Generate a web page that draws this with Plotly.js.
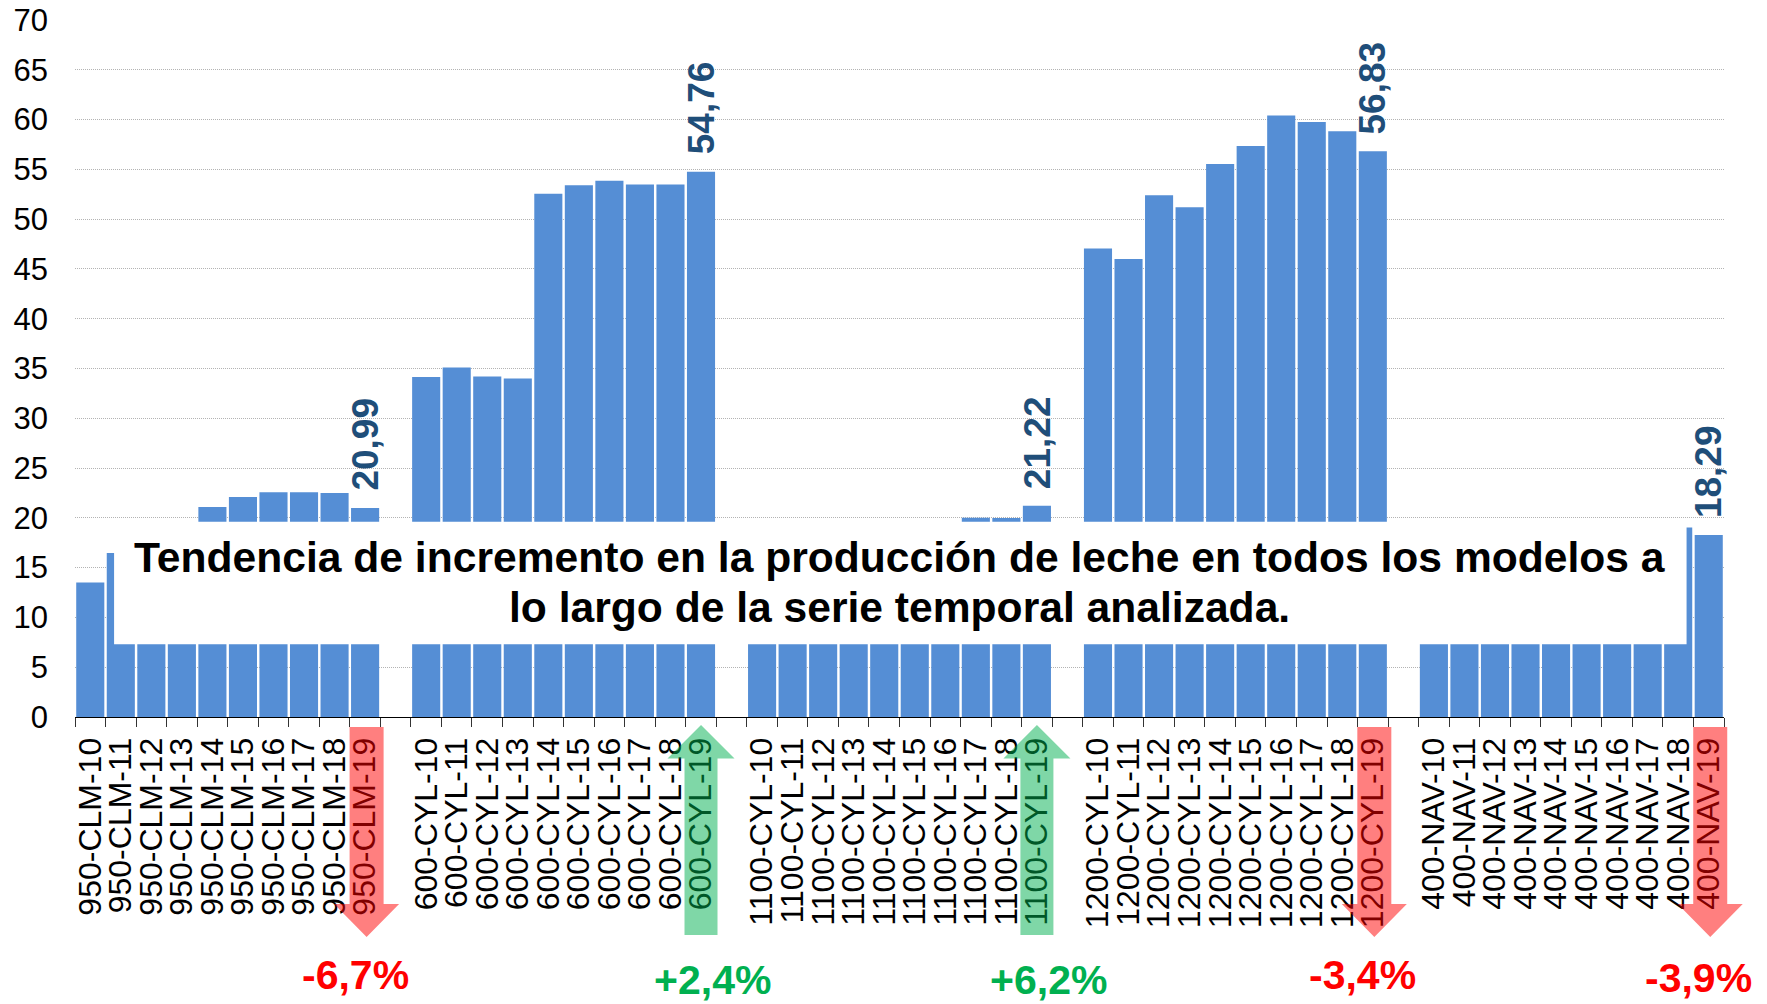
<!DOCTYPE html>
<html>
<head>
<meta charset="utf-8">
<script src="https://cdn.plot.ly/plotly-3.0.1.min.js"></script>
<style>
html,body{margin:0;padding:0;background:#ffffff;}
#chart{width:1767px;height:1004px;}
</style>
</head>
<body>
<div id="chart"></div>
<script>
// ---------- DATA ----------
const modelos = ['950-CLM', '600-CYL', '1100-CYL', '1200-CYL', '400-NAV'];
const anios = ['10', '11', '12', '13', '14', '15', '16', '17', '18', '19'];

const prod950CLM  = [13.50, 16.48, 18.30, 19.30, 21.10, 22.10, 22.57, 22.57, 22.50, 20.99];
const prod600CYL  = [34.15, 35.10, 34.20, 34.00, 52.55, 53.40, 53.85, 53.48, 53.48, 54.76];
const prod1100CYL = [17.20, 17.60, 18.10, 18.40, 18.80, 19.10, 19.40, 20.00, 19.98, 21.22];
const prod1200CYL = [47.05, 46.00, 52.40, 51.20, 55.55, 57.35, 60.40, 59.75, 58.83, 56.83];
const prod400NAV  = [15.80, 16.20, 16.70, 17.10, 17.60, 18.00, 18.50, 18.80, 19.03, 18.29];

const variacion = ['-6,7%', '+2,4%', '+6,2%', '-3,4%', '-3,9%'];
const nota = [
  'Tendencia de incremento en la producción de leche en todos los modelos a',
  'lo largo de la serie temporal analizada.'
];

// ---------- BUILD ----------
const series = [prod950CLM, prod600CYL, prod1100CYL, prod1200CYL, prod400NAV];
const perGroup = anios.length + 1;              // one empty slot between groups
const nSlots = modelos.length * perGroup - 1;   // 54

const xs = [], ys = [], tickvals = [], ticktext = [];
modelos.forEach((m, g) => {
  anios.forEach((a, j) => {
    const p = g * perGroup + j;
    xs.push(p);
    ys.push(series[g][j]);
    tickvals.push(p);
    ticktext.push(m + '-' + a);
  });
});

const FONT = 'Arial, "Liberation Sans", sans-serif';
const BAR = '#558ED5';
const LABEL_BLUE = '#1F4E79';
const RED = '#FF0000';
const GREEN = '#00B050';

const annotations = [];
const shapes = [];

// value labels on last bar of each group
modelos.forEach((m, g) => {
  const j = anios.length - 1;
  const p = g * perGroup + j;
  const v = series[g][j];
  annotations.push({
    x: p, y: v, xref: 'x', yref: 'y',
    text: v.toFixed(2).replace('.', ','),
    showarrow: false, textangle: -90,
    xanchor: 'center', yanchor: 'bottom', yshift: 15,
    font: {family: FONT, size: 37, color: LABEL_BLUE, weight: 'bold'}
  });
});

// white note box
shapes.push({
  type: 'rect', layer: 'above',
  xref: 'paper', yref: 'y',
  x0: 0.0237, x1: 0.9773, y0: 7.3, y1: 19.6,
  fillcolor: '#ffffff', line: {width: 0}
});
annotations.push({
  x: 0.5003, y: 0, xref: 'paper', yref: 'paper', yshift: 160.5,
  text: nota[0], showarrow: false, xanchor: 'center', yanchor: 'middle',
  font: {family: FONT, size: 42.6, color: '#000000', weight: 'bold'}
});
annotations.push({
  x: 0.5003, y: 0, xref: 'paper', yref: 'paper', yshift: 109.8,
  text: nota[1], showarrow: false, xanchor: 'center', yanchor: 'middle',
  font: {family: FONT, size: 42.6, color: '#000000', weight: 'bold'}
});

// arrows + percentage labels under the last category of each group
const downPath = 'M -15.5,-10 L 18.5,-10 L 18.5,-187 L 34,-187 L 1.5,-220 L -31,-187 L -15.5,-187 Z';
const upPath = 'M 0,-8 L 33.5,-41.5 L 16.5,-41.5 L 16.5,-218 L -16.5,-218 L -16.5,-41.5 L -33.5,-41.5 Z';
const pctShift = {down: {x: -10, y: -258}, up: {x: 11.5, y: -263}};

modelos.forEach((m, g) => {
  const p = g * perGroup + anios.length - 1;
  const frac = (p + 0.5) / nSlots;
  const isUp = variacion[g].trim().charAt(0) === '+';
  const extraDown = (g === modelos.length - 1) ? 3 : 0;
  shapes.push({
    type: 'path', layer: 'above',
    xref: 'paper', yref: 'paper',
    xsizemode: 'pixel', ysizemode: 'pixel',
    xanchor: frac, yanchor: 0,
    path: isUp ? upPath : downPath,
    fillcolor: isUp ? 'rgba(0,176,80,0.5)' : 'rgba(255,0,0,0.5)',
    line: {width: 0}
  });
  const sh = isUp ? pctShift.up : pctShift.down;
  annotations.push({
    x: frac, y: 0, xref: 'paper', yref: 'paper',
    xshift: sh.x, yshift: sh.y - extraDown,
    text: variacion[g], showarrow: false,
    xanchor: 'center', yanchor: 'middle',
    font: {family: FONT, size: 41, color: isUp ? GREEN : RED, weight: 'bold'}
  });
});

const trace = {
  type: 'bar',
  x: xs, y: ys,
  marker: {color: BAR, line: {width: 0}},
  hoverinfo: 'x+y'
};

const layout = {
  width: 1767, height: 1004,
  margin: {l: 75, r: 43, t: 20, b: 287, pad: 0},
  paper_bgcolor: '#ffffff', plot_bgcolor: '#ffffff',
  showlegend: false,
  bargap: 0.08,
  font: {family: FONT, color: '#000000'},
  xaxis: {
    type: 'linear',
    range: [-0.5, nSlots - 0.5],
    tickmode: 'array', tickvals: tickvals, ticktext: ticktext,
    tickangle: -90,
    ticks: '',
    ticklabelstandoff: 7,
    tickfont: {family: FONT, size: 32, color: '#000000'},
    showgrid: false, zeroline: false,
    showline: true, linecolor: '#000000', linewidth: 1,
    minor: {ticks: 'outside', ticklen: 9, tickcolor: '#333333', tickwidth: 1,
            tickmode: 'linear', tick0: -0.5, dtick: 1, showgrid: false},
    fixedrange: true
  },
  yaxis: {
    range: [0, 70], dtick: 5, tick0: 0,
    ticks: '',
    ticklabelstandoff: 26,
    tickfont: {family: FONT, size: 31, color: '#000000'},
    showgrid: true, gridcolor: '#B3B3B3', gridwidth: 1, griddash: '1px,1px',
    zeroline: false, showline: false,
    fixedrange: true
  },
  shapes: shapes,
  annotations: annotations
};

Plotly.newPlot('chart', [trace], layout, {displayModeBar: false, staticPlot: true});
</script>
</body>
</html>
